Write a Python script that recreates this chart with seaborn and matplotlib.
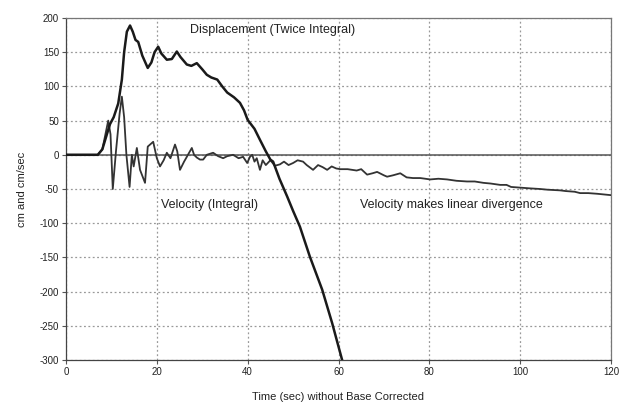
import matplotlib
matplotlib.use("Agg")
import matplotlib.pyplot as plt
import seaborn as sns
import pandas as pd

vel_t = [0, 7, 8, 9.3, 9.8, 10.3, 11, 11.8, 12.3, 12.8, 13.3, 14, 14.5, 14.9, 15.6, 16.3, 17.4, 18, 19.2, 20,
         20.7, 21.5, 22.2, 23, 24, 24.5, 25.1, 26, 26.6, 27.7, 28.2, 28.8, 29.5, 30.2, 31, 32.4, 33.5, 34.6, 35.5,
         36.8, 38, 39, 39.9, 40.5, 41, 41.5, 42, 42.7, 43.3, 44, 45, 46, 47.1, 48, 49, 50, 51, 52.2, 53, 54.4,
         55.5, 56.5, 57.5, 58.5, 59.5, 60.4, 62, 64, 65, 66.3, 67.5, 68.5, 70, 70.7, 72, 73.6, 75, 76.4, 78,
         80.2, 82, 83.9, 86, 88.3, 90, 91.9, 93.5, 95.6, 97, 98, 100, 102, 104.4, 106, 108.8, 110, 112, 113.2,
         115, 117, 120]
vel_v = [0, 0, 8, 50, 30, -50, 5, 60, 85, 55, 0, -47, 0, -17, 10, -22, -41, 12, 19, -5,
         -17, -8, 3, -5, 15, 5, -22, -10, -3, 10, 0, -4, -7, -7, 0, 3, -2, -5, -2,
         0, -5, -3, -12, -3, 0, -10, -5, -22, -8, -15, -8, -16, -14, -10, -15, -12, -8, -10, -15, -22,
         -15, -18, -22, -17, -20, -21, -21, -23, -21, -29, -27, -25, -30, -32, -30, -27, -33, -34, -34,
         -36, -35, -36, -38, -39, -39, -41, -42, -44, -44, -47, -48, -49, -50, -51, -52, -53, -54, -56,
         -56, -57, -59]

disp_t = [0, 7, 8, 9, 9.7, 10.5, 11.5, 12.3, 12.8, 13.4, 14.1, 14.7, 15.3, 15.9, 16.8, 18, 18.8, 19.5, 20.3,
          21, 22.2, 23.3, 24.4, 25.2, 26.6, 27.6, 28.8, 30, 31, 32, 33.3, 34.4, 35.5, 37, 38.3, 39.2, 40,
          41.5, 42.7, 44, 45, 45.6, 47, 48.7, 50, 51.5, 53.7, 56.4, 58.6, 60.8]
disp_v = [0, 0, 8, 30, 45, 55, 75, 110, 150, 180, 189, 180, 168, 165, 145, 127, 135, 150, 158,
          148, 139, 140, 151, 143, 132, 130, 134, 125, 117, 113, 110, 100, 91, 84, 76, 65, 51,
          38, 22, 5, -7, -10, -35, -61, -82, -105, -149, -197, -246, -300]

x_ticks = [0, 20, 40, 60, 80, 100, 120]
y_ticks = [200, 150, 100, 50, 0, -50, -100, -150, -200, -250, -300]

sns.set_style("white")
plt.rcParams['font.family'] = ['Liberation Sans', 'DejaVu Sans']
plt.rcParams['axes.unicode_minus'] = False

fig = plt.figure(figsize=(6.22, 4.09), dpi=100)
ax = fig.add_axes([66/622, 1-360/409, (611-66)/622, (360-18)/409])

ax.axhline(0, color='#555555', lw=1.1, zorder=1)
sns.lineplot(x=vel_t, y=vel_v, ax=ax, color='#333333', lw=1.3, zorder=3, sort=False)
sns.lineplot(x=disp_t, y=disp_v, ax=ax, color='#1a1a1a', lw=1.8, zorder=4, sort=False)

ax.set_xlim(0, 120)
ax.set_ylim(-300, 200)
ax.set_xticks(x_ticks)
ax.set_yticks(y_ticks)
ax.tick_params(axis='both', labelsize=7, length=3, width=0.8, color='#555555',
               direction='out', labelcolor='#222222', pad=2)
ax.tick_params(left=True, bottom=True)
ax.grid(True, ls=(0, (1.5, 2)), color='#999999', lw=0.9)
for s in ax.spines.values():
    s.set_color('#777777')
    s.set_linewidth(0.9)
ax.spines['left'].set_color('#444444')
ax.spines['bottom'].set_color('#444444')

ax.set_xlabel('Time (sec) without Base Corrected', fontsize=8, color='#222222', labelpad=11)
ax.set_ylabel('cm and cm/sec', fontsize=8, color='#222222', labelpad=9)

ax.text(27.3, 183, 'Displacement (Twice Integral)', fontsize=9, color='#222222', va='center')
ax.text(21, -73, 'Velocity (Integral)', fontsize=9, color='#222222', va='center')
ax.text(64.8, -73, 'Velocity makes linear divergence', fontsize=9, color='#222222', va='center')

fig.savefig('out.png', dpi=100)
